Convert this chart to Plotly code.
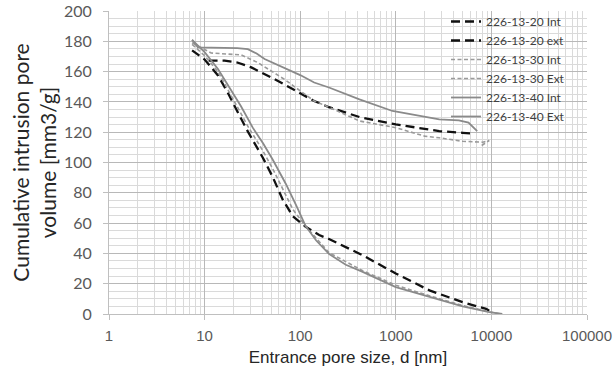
import plotly.graph_objects as go

# ---- data ----
d20_int = [7.4, 10, 13.8, 17.5, 22.3, 28.3, 40.8, 51.5, 65.7, 83.9, 114, 158, 200, 450, 1000, 2250, 5000, 8800, 10500]
v20_int = [174, 168, 157.5, 146, 133, 120.5, 103, 90.5, 75.5, 64.5, 57.6, 52.1, 49.5, 38.8, 26.7, 15.6, 7.8, 3.4, 0.5]

d20_ext = [11, 16.2, 22, 30.8, 54, 100, 140, 200, 417, 1000, 2000, 2850, 5000, 6300]
v20_ext = [167.2, 167.2, 166, 162.8, 155, 146, 140.6, 136.5, 130, 125.2, 122.3, 120.7, 119.6, 119.2]

d30_int = [7.4, 10, 13.8, 17.5, 22.3, 28.3, 40, 51.5, 65.7, 83.9, 114, 150, 200, 450, 1000, 2250, 5000, 9500, 12500]
v30_int = [178, 170.5, 160, 148.5, 136, 124, 108.5, 96, 82, 69, 58, 49.5, 40.5, 28.6, 19, 12, 5.6, 1.5, 0]

d30_ext = [7.4, 11.7, 24.1, 36, 68, 140, 200, 417, 1000, 2000, 2850, 5000, 8100, 9500, 7600]
v30_ext = [179, 172.3, 171, 166, 155, 140.6, 136.5, 127.4, 123, 117.4, 116.3, 114, 113.4, 114.5, 110.5]

d40_int = [7.4, 10, 13.8, 17.5, 24.1, 31.9, 41, 51.5, 70.6, 90.3, 114, 147, 201, 300, 450, 1000, 2250, 5000, 9500, 13000]
v40_int = [181, 172.8, 161.7, 151, 137, 123, 112.5, 102, 86, 72, 58, 48.5, 39.5, 32.5, 27.8, 17.8, 11.2, 5, 1.2, 0]

d40_ext = [7.4, 8.5, 22, 28.3, 35, 42.4, 100, 140, 200, 417, 922, 2850, 4570, 5760, 7100]
v40_ext = [181, 176, 175.5, 174.8, 172, 168.3, 157.7, 152.8, 149.5, 141.7, 134, 128.5, 127.8, 126.3, 120.7]

names = ["226-13-20 Int", "226-13-20 ext", "226-13-30 Int", "226-13-30 Ext",
         "226-13-40 Int", "226-13-40 Ext"]
xs = [d20_int, d20_ext, d30_int, d30_ext, d40_int, d40_ext]
ys = [v20_int, v20_ext, v30_int, v30_ext, v40_int, v40_ext]

styles = [
    dict(color="#111111", width=2.3, dash="9px,5px"),
    dict(color="#111111", width=2.3, dash="9px,5px"),
    dict(color="#9a9a9a", width=1.6, dash="4px,2.5px"),
    dict(color="#9a9a9a", width=1.6, dash="4px,2.5px"),
    dict(color="#8a8a8a", width=1.8, dash="solid"),
    dict(color="#8a8a8a", width=1.8, dash="solid"),
]

fig = go.Figure()
for n, x, y, s in zip(names, xs, ys, styles):
    fig.add_trace(go.Scatter(x=x, y=y, mode="lines", name=n, line=s))

W, H = 616, 380
L, R, T, B = 109, 29, 11, 66
pw = W - L - R
ph = H - T - B

# white legend box covering gridlines
fig.add_shape(type="rect", xref="paper", yref="paper",
              x0=(433 - L) / pw, x1=1, y0=1 - (118 - T) / ph, y1=1,
              fillcolor="white", line=dict(width=0), layer="between")

tickfont_x = dict(family="Liberation Sans, Arial", size=15, color="#595959")
tickfont_y = dict(family="Lato", size=16, color="#595959")

fig.update_layout(
    width=W, height=H,
    margin=dict(l=L, r=R, t=T, b=B, autoexpand=False),
    paper_bgcolor="white", plot_bgcolor="white",
    showlegend=True,
    legend=dict(x=(446 - L) / pw, y=1.0 + 4 / ph, xanchor="left", yanchor="top",
                bgcolor="rgba(0,0,0,0)", font=dict(family="Lato", size=12, color="#404040"),
                tracegroupgap=0, itemwidth=30),
    xaxis=dict(type="log", range=[0, 5], dtick=1,
               tickvals=[1, 10, 100, 1000, 10000, 100000],
               ticktext=["1", "10", "100", "1000", "10000", "100000"],
               tickfont=tickfont_x, automargin=False, ticklabelstandoff=3,
               showgrid=True, gridcolor="#b8b8b8", gridwidth=1,
               minor=dict(showgrid=True, dtick="D1", gridcolor="#dadada", gridwidth=1),
               showline=True, linecolor="#bfbfbf", linewidth=1,
               ticks="outside", ticklen=5, tickcolor="#bfbfbf",
               title=dict(text="Entrance pore size, d [nm]", standoff=8,
                          font=dict(family="Liberation Sans, Arial", size=17, color="#262626")),
               zeroline=False),
    yaxis=dict(range=[0, 200], dtick=20,
               tickfont=tickfont_y, automargin=False, ticklabelstandoff=8,
               showgrid=True, gridcolor="#b8b8b8", gridwidth=1,
               minor=dict(showgrid=True, dtick=5, gridcolor="#dadada", gridwidth=1),
               showline=True, linecolor="#bfbfbf", linewidth=1,
               ticks="outside", ticklen=5, tickcolor="#bfbfbf",
               title=dict(text="Cumulative intrusion pore<br>volume [mm3/g]", standoff=1,
                          font=dict(family="Lato", size=21, color="#262626")),
               zeroline=False),
)

fig.write_html("out.html", config={"displayModeBar": False},
               post_script="document.body.style.margin='0';")
